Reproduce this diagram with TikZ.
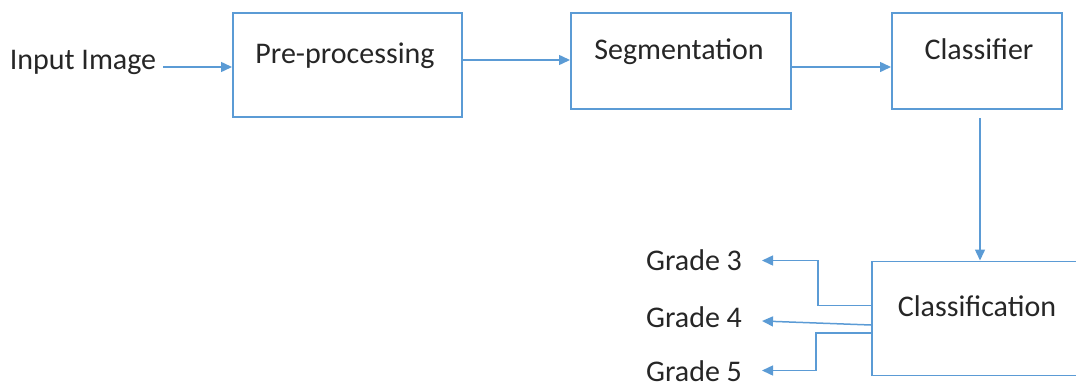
\documentclass[tikz,border=0pt]{standalone}
\usepackage{fontspec}
\setmainfont{Carlito}
\usetikzlibrary{arrows.meta}
\definecolor{lineblue}{HTML}{5B9BD5}
\definecolor{txtgray}{HTML}{262626}
\tikzset{
  box/.style={draw=lineblue, line width=1.5pt, rectangle, anchor=north west, inner sep=0pt},
  txt/.style={text=txtgray, font=\fontsize{30}{34}\selectfont, inner sep=0pt, anchor=base},
  conn/.style={draw=lineblue, line width=1.5pt, -{Triangle[length=11pt,width=10pt]}},
}
\begin{document}
\begin{tikzpicture}[x=1pt,y=-1pt]
\useasboundingbox (0,0) rectangle (1076,388);
\node[box, minimum width=229pt, minimum height=104pt] (pre) at (232,12) {};
\node[box, minimum width=220pt, minimum height=96pt] (seg) at (570,12) {};
\node[box, minimum width=170pt, minimum height=96pt] (cls) at (891,12) {};
\node[box, minimum width=230pt, minimum height=114pt] (cln) at (871,260.5) {};

\node[txt] (inp) at (83,69.5) {Input Image};
\node[txt] (pret) at (345,63.3) {Pre-processing};
\node[txt] (segt) at (679,59.3) {Segmentation};
\node[txt] (clst) at (979,59.3) {Classifier};
\node[txt] (clnt) at (977,316) {Classification};
\node[txt] (g3) at (694,270.7) {Grade 3};
\node[txt] (g4) at (694,327.3) {Grade 4};
\node[txt] (g5) at (694,381.5) {Grade 5};

\coordinate (a0) at (163,67);
\draw[conn] (a0) -- (pre.west |- a0);
\draw[conn] (pre.east |- 0,60) -- (seg.west |- 0,60);
\draw[conn] (seg.east |- 0,67) -- (cls.west |- 0,67);
\coordinate (c0) at (980,118);
\draw[conn] (c0) -- (cln.north -| c0);
\coordinate (t3) at (762,260.5);
\coordinate (t4) at (762,321);
\coordinate (t5) at (762,370.5);
\draw[conn] (cln.west |- 0,305.5) -| (818,260.5) -- (t3);
\draw[conn] (cln.west |- 0,325) -- (t4);
\draw[conn] (cln.west |- 0,333) -| (816,370.5) -- (t5);
\end{tikzpicture}
\end{document}
